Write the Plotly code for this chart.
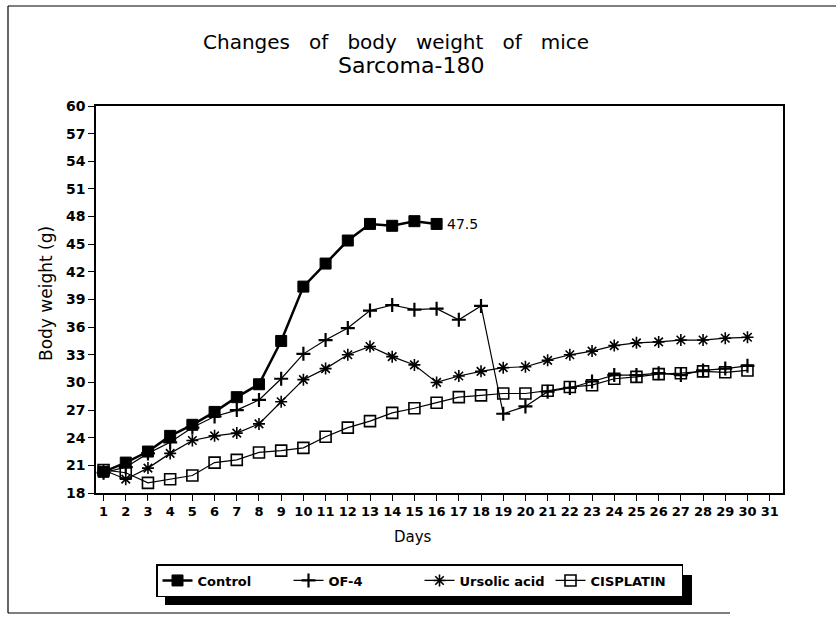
import plotly.graph_objects as go

days = list(range(1, 31))
control_days = list(range(1, 17))
control = [20.3, 21.3, 22.5, 24.2, 25.4, 26.8, 28.4, 29.8, 34.5, 40.4, 42.9, 45.4,
           47.2, 47.0, 47.5, 47.2]
of4 = [20.2, 20.8, 22.3, 23.5, 25.1, 26.3, 27.0, 28.1, 30.4, 33.1, 34.6, 35.9, 37.8,
       38.4, 37.9, 38.0, 36.8, 38.3, 26.6, 27.4, 29.0, 29.4, 30.1, 30.8, 30.8, 31.0,
       30.8, 31.3, 31.5, 31.8]
ursolic = [20.5, 19.5, 20.7, 22.3, 23.7, 24.2, 24.5, 25.5, 27.9, 30.3, 31.5, 33.0,
           33.9, 32.8, 31.9, 30.0, 30.7, 31.2, 31.6, 31.7, 32.4, 33.0, 33.4, 34.0,
           34.3, 34.4, 34.6, 34.6, 34.8, 34.9]
cisplatin = [20.5, 20.2, 19.1, 19.5, 19.9, 21.3, 21.6, 22.4, 22.6, 22.9, 24.1, 25.1,
             25.8, 26.7, 27.2, 27.8, 28.4, 28.6, 28.8, 28.8, 29.1, 29.5, 29.7, 30.4,
             30.6, 30.9, 31.0, 31.2, 31.1, 31.3]
series_names = ["Control", "OF-4", "Ursolic acid", "CISPLATIN"]
y_ticks = list(range(18, 61, 3))
x_ticks = list(range(1, 32))
peak_label = "47.5"

FONT = "DejaVu Sans"
W, H = 836, 621
L, R, T, B = 96, 53, 106, 128
PW, PH = W - L - R, H - T - B


def px(x):
    return (x - L) / PW


def py(y):
    return (H - B - y) / PH


fig = go.Figure()
fig.add_trace(go.Scatter(
    x=control_days, y=control, name=series_names[0], mode="lines+markers",
    line=dict(color="black", width=2.5),
    marker=dict(symbol="square", size=11, color="black", line=dict(color="black", width=1))))
fig.add_trace(go.Scatter(
    x=days, y=of4, name=series_names[1], mode="lines+markers",
    line=dict(color="black", width=1.2),
    marker=dict(symbol="cross-thin", size=10, color="black", line=dict(color="black", width=2.2))))
fig.add_trace(go.Scatter(
    x=days, y=ursolic, name=series_names[2], mode="lines+markers",
    line=dict(color="black", width=1.2),
    marker=dict(symbol="asterisk", size=10, color="black", line=dict(color="black", width=1.6))))
fig.add_trace(go.Scatter(
    x=days, y=cisplatin, name=series_names[3], mode="lines+markers",
    line=dict(color="black", width=1.2),
    marker=dict(symbol="square-open", size=11, color="black", line=dict(color="black", width=1.6))))

fig.add_annotation(x=control_days[-1], y=control[-1], text=peak_label, showarrow=False,
                   xanchor="left", yanchor="middle", xshift=8,
                   font=dict(family=FONT, size=14, color="black"))

# titles
fig.add_annotation(xref="paper", yref="paper", x=px(396), y=py(42),
                   text="Changes\u00a0\u00a0\u00a0of\u00a0\u00a0\u00a0body\u00a0\u00a0\u00a0weight\u00a0\u00a0\u00a0of\u00a0\u00a0\u00a0mice",
                   showarrow=False, xanchor="center", yanchor="middle",
                   font=dict(family=FONT, size=20, color="black"))
fig.add_annotation(xref="paper", yref="paper", x=px(411), y=py(65),
                   text="Sarcoma-180", showarrow=False, xanchor="center", yanchor="middle",
                   font=dict(family=FONT, size=22, color="black"))
fig.add_annotation(xref="paper", yref="paper", x=px(46), y=py(294),
                   text="Body weight (g)", showarrow=False, textangle=-90,
                   xanchor="center", yanchor="middle",
                   font=dict(family=FONT, size=17, color="black"))
fig.add_annotation(xref="paper", yref="paper", x=px(413), y=py(537),
                   text="Days", showarrow=False, xanchor="center", yanchor="middle",
                   font=dict(family=FONT, size=15, color="black"))

shapes = [
    # legend shadow
    dict(type="rect", xref="paper", yref="paper", x0=px(165), x1=px(692), y0=py(605), y1=py(575),
         fillcolor="black", line=dict(width=0), layer="below"),
    # outer frame
    dict(type="line", xref="paper", yref="paper", x0=px(8), x1=px(8), y0=py(6), y1=py(613),
         line=dict(color="black", width=1.2)),
    dict(type="line", xref="paper", yref="paper", x0=px(8), x1=px(836), y0=py(6), y1=py(6),
         line=dict(color="black", width=1.2)),
    dict(type="line", xref="paper", yref="paper", x0=px(8), x1=px(730), y0=py(613), y1=py(613),
         line=dict(color="black", width=1.2)),
]

fig.update_layout(
    width=W, height=H,
    margin=dict(l=L, r=R, t=T, b=B, pad=0),
    paper_bgcolor="white", plot_bgcolor="white",
    font=dict(family=FONT, color="black"),
    shapes=shapes,
    showlegend=True,
    legend=dict(orientation="h", x=px(156), y=py(564), xanchor="left", yanchor="top",
                bgcolor="white", bordercolor="black", borderwidth=1.5,
                font=dict(family=FONT, size=13, color="black", weight="bold"),
                entrywidth=86, entrywidthmode="pixels", tracegroupgap=0),
    xaxis=dict(range=[0.66, 31.6], tickvals=x_ticks, ticktext=[str(v) for v in x_ticks],
               ticks="outside", ticklen=6, tickwidth=1.2, tickcolor="black",
               showline=True, linecolor="black", linewidth=1.5, mirror=True,
               showgrid=False, zeroline=False,
               tickfont=dict(family=FONT, size=13, color="black", weight="bold")),
    yaxis=dict(range=[18, 60], tickvals=y_ticks, ticks="outside", ticklen=6, tickwidth=1.2,
               tickcolor="black", showline=True, linecolor="black", linewidth=1.5, mirror=True,
               showgrid=False, zeroline=False,
               tickfont=dict(family=FONT, size=14, color="black", weight="bold")),
)

fig.write_html("out.html", config={"displayModeBar": False},
               post_script="document.body.style.margin='0px';document.body.style.overflow='hidden';")
